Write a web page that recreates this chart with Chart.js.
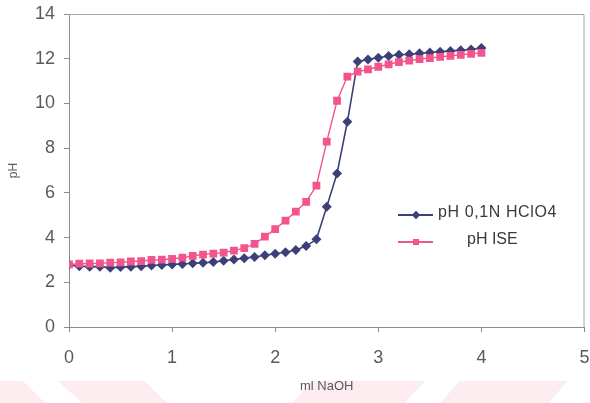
<!DOCTYPE html>
<html>
<head>
<meta charset="utf-8">
<script src="https://cdn.jsdelivr.net/npm/chart.js@4"></script>
<style>
  html, body { margin: 0; padding: 0; background: #fff; }
  #wrap { position: relative; width: 590px; height: 403px; overflow: hidden; font-family: "Liberation Sans", Arial, sans-serif; }
  .wm { position: absolute; left: 0; top: 0; width: 590px; height: 403px; background: #fdedf0; }
  #c { position: absolute; left: 0; top: 0; }
  .legend { position: absolute; left: 398px; top: 203px; color: #3a3a3a; font-size: 16px; }
  .legend .row { position: relative; height: 27px; }
  .legend .ln { position: absolute; left: 0; width: 35px; top: 11px; height: 1.5px; }
  .legend .mk { position: absolute; width: 6px; height: 6px; }
  .legend .tx { position: absolute; top: 0; white-space: nowrap; }
</style>
</head>
<body>
<div id="wrap">
  <div class="wm" style="clip-path: polygon(0px 381px, 23px 381px, 45px 403px, 0px 403px);"></div>
  <div class="wm" style="clip-path: polygon(58px 381px, 145px 381px, 167px 403px, 82px 403px);"></div>
  <div class="wm" style="clip-path: polygon(312px 381px, 425px 381px, 404px 403px, 292px 403px);"></div>
  <div class="wm" style="clip-path: polygon(460px 381px, 568px 381px, 548px 403px, 440px 403px);"></div>
  <canvas id="c" width="590" height="403"></canvas>
  <div class="legend">
    <div class="row">
      <div class="ln" style="background:#3d4078"></div>
      <div class="mk" style="background:#3d4078; left:15px; top:9px; transform: rotate(45deg);"></div>
      <div class="tx" style="left:40px; letter-spacing:0.6px;">pH 0,1N HClO4</div>
    </div>
    <div class="row">
      <div class="ln" style="background:#f2558e"></div>
      <div class="mk" style="background:#f2558e; left:15px; top:9px;"></div>
      <div class="tx" style="left:69px;">pH ISE</div>
    </div>
  </div>
</div>
<script>
// ml NaOH added
const mlNaOH = [0, 0.1, 0.2, 0.3, 0.4, 0.5, 0.6, 0.7, 0.8, 0.9,
  1.0, 1.1, 1.2, 1.3, 1.4, 1.5, 1.6, 1.7, 1.8, 1.9,
  2.0, 2.1, 2.2, 2.3, 2.4, 2.5, 2.6, 2.7, 2.8, 2.9,
  3.0, 3.1, 3.2, 3.3, 3.4, 3.5, 3.6, 3.7, 3.8, 3.9, 4.0];

// pH 0,1N HClO4 electrode
const phHClO4 = [2.78, 2.72, 2.70, 2.70, 2.65, 2.68, 2.70, 2.72, 2.75, 2.77,
  2.80, 2.82, 2.85, 2.87, 2.91, 2.96, 3.02, 3.08, 3.13, 3.21,
  3.28, 3.34, 3.44, 3.62, 3.92, 5.38, 6.87, 9.18, 11.87, 11.97,
  12.04, 12.12, 12.18, 12.20, 12.24, 12.28, 12.31, 12.35, 12.38, 12.41, 12.48];

// pH ISE
const phISE = [2.80, 2.83, 2.84, 2.85, 2.88, 2.89, 2.93, 2.95, 3.00, 3.01,
  3.05, 3.10, 3.18, 3.24, 3.28, 3.33, 3.42, 3.53, 3.72, 4.04,
  4.38, 4.76, 5.16, 5.60, 6.32, 8.29, 10.12, 11.20, 11.42, 11.52,
  11.64, 11.75, 11.85, 11.91, 11.98, 12.03, 12.08, 12.13, 12.17, 12.22, 12.26];

const xTicks = [0, 1, 2, 3, 4, 5];
const yTicks = [0, 2, 4, 6, 8, 10, 12, 14];

const toPoints = (xs, ys) => xs.map((x, i) => ({ x: x, y: ys[i] }));

// thin frame round the plot area (top and right sides)
const frame = {
  id: "frame",
  afterDraw(chart) {
    const a = chart.chartArea;
    const ctx = chart.ctx;
    ctx.save();
    ctx.strokeStyle = "#a8a8a8";
    ctx.lineWidth = 1;
    ctx.beginPath();
    ctx.moveTo(a.left, a.top + 0.5);
    ctx.lineTo(a.right - 0.5, a.top + 0.5);
    ctx.lineTo(a.right - 0.5, a.bottom);
    ctx.stroke();
    ctx.restore();
  }
};

const tickFont = { family: "'Liberation Sans', Arial, sans-serif", size: 18 };

new Chart(document.getElementById("c"), {
  type: "line",
  data: {
    datasets: [
      {
        label: "pH 0,1N HClO4",
        data: toPoints(mlNaOH, phHClO4),
        borderColor: "#3d4078",
        backgroundColor: "#3d4078",
        borderWidth: 1.6,
        pointStyle: "rectRot",
        pointRadius: 5,
        pointBorderWidth: 0,
        order: 1
      },
      {
        label: "pH ISE",
        data: toPoints(mlNaOH, phISE),
        borderColor: "#f2558e",
        backgroundColor: "#f2558e",
        borderWidth: 1.4,
        pointStyle: "rect",
        pointRadius: 5.5,
        pointBorderWidth: 0,
        order: 0
      }
    ]
  },
  options: {
    responsive: false,
    animation: false,
    events: [],
    layout: { padding: { top: 14, right: 5, bottom: 0, left: 0 } },
    plugins: {
      legend: { display: false },
      tooltip: { enabled: false }
    },
    scales: {
      x: {
        type: "linear",
        min: 0,
        max: 5,
        afterBuildTicks: s => { s.ticks = xTicks.map(v => ({ value: v })); },
        afterFit: s => { s.height = 76; s.paddingLeft = 0; s.paddingRight = 0; },
        grid: { drawOnChartArea: false, drawTicks: true, tickLength: 5, color: "#8c8c8c" },
        border: { color: "#8c8c8c", width: 1 },
        ticks: { color: "#5a5a5a", font: tickFont, padding: 15, maxRotation: 0 },
        title: {
          display: true,
          text: "ml NaOH",
          color: "#5a5a5a",
          font: { family: "'Liberation Sans', Arial, sans-serif", size: 13 },
          padding: { top: 0, bottom: 9 }
        }
      },
      y: {
        min: 0,
        max: 14,
        afterBuildTicks: s => { s.ticks = yTicks.map(v => ({ value: v })); },
        afterFit: s => { s.width = 69; s.paddingTop = 0; s.paddingBottom = 0; },
        grid: { drawOnChartArea: false, drawTicks: true, tickLength: 5, color: "#8c8c8c" },
        border: { color: "#8c8c8c", width: 1 },
        ticks: { color: "#5a5a5a", font: tickFont, padding: 9 },
        title: {
          display: true,
          text: "pH",
          color: "#5a5a5a",
          font: { family: "'Liberation Sans', Arial, sans-serif", size: 12 },
          padding: { top: 6, bottom: 0 }
        }
      }
    }
  },
  plugins: [frame]
});
</script>
</body>
</html>
